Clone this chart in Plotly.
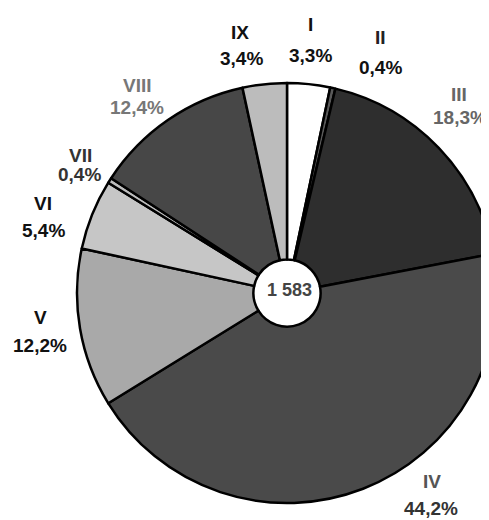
import plotly.graph_objects as go

W, H = 489, 520
OFF = 8  # browser default body margin shifts the figure by 8px

categories = ["I", "II", "III", "IV", "V", "VI", "VII", "VIII", "IX"]
values = [3.3, 0.4, 18.3, 44.2, 12.2, 5.4, 0.4, 12.4, 3.4]
pct_labels = ["3,3%", "0,4%", "18,3%", "44,2%", "12,2%", "5,4%", "0,4%", "12,4%", "3,4%"]
total_label = "1 583"

slice_colors = ["#ffffff", "#5a5a5a", "#2e2e2e", "#4a4a4a", "#a9a9a9",
                "#c6c6c6", "#bdbdbd", "#474747", "#bcbcbc"]

# label positions on screen (pixels): (name_x, name_y, pct_x, pct_y)
label_px = {
    "I": (310, 24, 310, 55), "II": (380, 37, 380, 67),
    "III": (459, 95, 460, 117), "IV": (432, 481, 431, 508),
    "V": (40, 317, 40, 345), "VI": (43, 203, 43, 230),
    "VII": (80, 155, 79, 174), "VIII": (137, 85, 137, 108),
    "IX": (240, 32, 241, 59),
}
name_col = {
    "I": "#111111", "II": "#222222", "III": "#666666", "IV": "#555555",
    "V": "#111111", "VI": "#111111", "VII": "#333333", "VIII": "#777777",
    "IX": "#111111",
}
pct_col = {
    "I": "#111111", "II": "#111111", "III": "#666666", "IV": "#333333",
    "V": "#111111", "VI": "#111111", "VII": "#333333", "VIII": "#777777",
    "IX": "#111111",
}

# pie geometry on screen (pixels)
cx, cy, r = 287, 293, 210
pcx, pcy = cx - OFF, cy - OFF

fig = go.Figure()
fig.add_trace(go.Pie(
    labels=categories,
    values=values,
    sort=False,
    direction="clockwise",
    rotation=0,
    hole=0.16,
    textinfo="none",
    hoverinfo="label+percent",
    marker=dict(colors=slice_colors, line=dict(color="#000000", width=2.5)),
    domain=dict(x=[max(0, (pcx - r) / W), min(1, (pcx + r) / W)],
                y=[1 - (pcy + r) / H, 1 - (pcy - r) / H]),
    showlegend=False,
))

FONT = "Liberation Sans, Arial, sans-serif"


def sx(px):
    return (px - OFF) / W


def sy(py):
    return 1 - (py - OFF) / H


annotations = []
for cat, pct in zip(categories, pct_labels):
    nx, ny, qx, qy = label_px[cat]
    annotations.append(dict(
        x=sx(nx), y=sy(ny), xref="paper", yref="paper", text=f"<b>{cat}</b>",
        showarrow=False, font=dict(family=FONT, size=19, color=name_col[cat]),
        xanchor="center", yanchor="middle",
    ))
    annotations.append(dict(
        x=sx(qx), y=sy(qy), xref="paper", yref="paper", text=f"<b>{pct}</b>",
        showarrow=False, font=dict(family=FONT, size=19, color=pct_col[cat]),
        xanchor="center", yanchor="middle",
    ))
annotations.append(dict(
    x=sx(289), y=sy(290), xref="paper", yref="paper",
    text=f"<b>{total_label}</b>", showarrow=False,
    font=dict(family=FONT, size=18, color="#444444"),
    xanchor="center", yanchor="middle",
))

fig.update_layout(
    width=W, height=H,
    margin=dict(l=0, r=0, t=0, b=0),
    paper_bgcolor="#ffffff",
    plot_bgcolor="#ffffff",
    annotations=annotations,
)

fig.write_html("out.html")
